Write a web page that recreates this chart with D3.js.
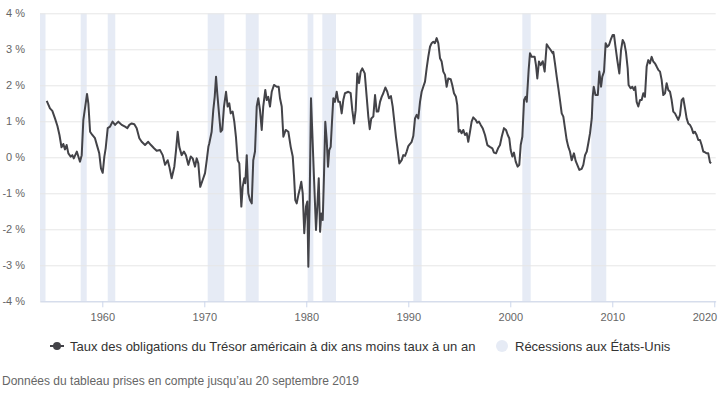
<!DOCTYPE html>
<html>
<head>
<meta charset="utf-8">
<script src="https://cdn.jsdelivr.net/npm/d3@7"></script>
<style>
  body { margin: 0; background: #fff; }
  text { font-family: "Liberation Sans", Arial, sans-serif; }
</style>
</head>
<body>
<svg id="chart" width="724" height="395"></svg>
<script>
// decimal years
const years = [
  1954.55, 1954.87, 1955.1, 1955.36, 1955.6, 1955.8, 1956.0, 1956.18, 1956.34, 1956.5, 1956.67, 1956.9,
  1957.06, 1957.2, 1957.5, 1957.65, 1957.81, 1957.98, 1958.14, 1958.37, 1958.5, 1958.63, 1958.8, 1959.02,
  1959.28, 1959.5, 1959.7, 1959.87, 1960.04, 1960.2, 1960.33, 1960.53, 1960.75, 1961.0, 1961.25, 1961.57,
  1961.9, 1962.23, 1962.45, 1962.65, 1962.88, 1963.14, 1963.37, 1963.63, 1963.86, 1964.19, 1964.5, 1964.77,
  1965.07, 1965.33, 1965.66, 1965.92, 1966.15, 1966.41, 1966.57, 1966.8, 1967.06, 1967.23, 1967.39, 1967.55,
  1967.78, 1968.0, 1968.2, 1968.43, 1968.67, 1968.86, 1969.09, 1969.25, 1969.41, 1969.6, 1969.84, 1970.07,
  1970.24, 1970.4, 1970.49, 1970.72, 1970.88, 1971.02, 1971.15, 1971.27, 1971.44, 1971.6, 1971.76, 1971.93,
  1972.13, 1972.29, 1972.45, 1972.59, 1972.78, 1972.94, 1973.1, 1973.27, 1973.43, 1973.63, 1973.76, 1973.92,
  1974.02, 1974.16, 1974.31, 1974.48, 1974.65, 1974.8, 1974.97, 1975.14, 1975.29, 1975.46, 1975.63, 1975.78,
  1975.98, 1976.12, 1976.27, 1976.44, 1976.61, 1976.83, 1977.1, 1977.29, 1977.42, 1977.59, 1977.75, 1977.98,
  1978.24, 1978.47, 1978.67, 1978.8, 1978.92, 1979.06, 1979.22, 1979.38, 1979.51, 1979.65, 1979.8, 1979.97,
  1980.1, 1980.2, 1980.33, 1980.46, 1980.59, 1980.75, 1980.95, 1981.08, 1981.22, 1981.35, 1981.47, 1981.61,
  1981.74, 1981.86, 1982.0, 1982.13, 1982.25, 1982.39, 1982.52, 1982.65, 1982.81, 1982.98, 1983.14, 1983.3,
  1983.47, 1983.63, 1983.79, 1984.12, 1984.35, 1984.51, 1984.68, 1984.84, 1985.0, 1985.17, 1985.33, 1985.49,
  1985.73, 1985.92, 1986.08, 1986.22, 1986.37, 1986.57, 1986.74, 1986.9, 1987.06, 1987.23, 1987.39, 1987.55,
  1987.75, 1987.94, 1988.11, 1988.3, 1988.47, 1988.63, 1988.79, 1988.96, 1989.12, 1989.35, 1989.51, 1989.68,
  1989.84, 1990.0, 1990.17, 1990.33, 1990.49, 1990.66, 1990.82, 1990.98, 1991.15, 1991.31, 1991.47, 1991.64,
  1991.8, 1991.96, 1992.13, 1992.29, 1992.45, 1992.61, 1992.78, 1992.94, 1993.11, 1993.27, 1993.43, 1993.6,
  1993.76, 1993.92, 1994.16, 1994.31, 1994.48, 1994.67, 1994.8, 1994.94, 1995.07, 1995.23, 1995.39, 1995.56,
  1995.73, 1995.88, 1996.05, 1996.21, 1996.37, 1996.6, 1996.76, 1996.93, 1997.1, 1997.29, 1997.52, 1997.75,
  1998.0, 1998.24, 1998.4, 1998.6, 1998.8, 1998.99, 1999.16, 1999.38, 1999.58, 1999.75, 1999.9, 2000.04,
  2000.2, 2000.36, 2000.53, 2000.72, 2000.88, 2001.02, 2001.18, 2001.35, 2001.51, 2001.61, 2001.8, 2001.93,
  2002.1, 2002.25, 2002.39, 2002.52, 2002.65, 2002.81, 2002.98, 2003.18, 2003.37, 2003.57, 2003.73, 2003.96,
  2004.16, 2004.22, 2004.38, 2004.55, 2004.71, 2004.87, 2005.04, 2005.2, 2005.36, 2005.53, 2005.69, 2005.85,
  2006.02, 2006.24, 2006.41, 2006.57, 2006.77, 2007.0, 2007.16, 2007.33, 2007.5, 2007.65, 2007.82, 2007.99,
  2008.08, 2008.18, 2008.35, 2008.58, 2008.73, 2008.9, 2009.02, 2009.19, 2009.35, 2009.51, 2009.68, 2009.84,
  2010.04, 2010.17, 2010.29, 2010.49, 2010.69, 2010.86, 2011.02, 2011.18, 2011.34, 2011.51, 2011.6, 2011.8,
  2011.96, 2012.13, 2012.25, 2012.39, 2012.55, 2012.72, 2012.88, 2013.04, 2013.2, 2013.37, 2013.53, 2013.69,
  2013.86, 2014.02, 2014.18, 2014.35, 2014.51, 2014.68, 2014.84, 2015.0, 2015.17, 2015.33, 2015.49, 2015.66,
  2015.82, 2015.98, 2016.15, 2016.31, 2016.47, 2016.64, 2016.8, 2016.96, 2017.13, 2017.29, 2017.45, 2017.62,
  2017.78, 2017.94, 2018.1, 2018.27, 2018.43, 2018.6, 2018.76, 2018.92, 2019.09, 2019.25, 2019.41, 2019.58,
  2019.7
];

// 10 ans moins 1 an, en %
const spread = [
  1.57, 1.36, 1.29, 1.08, 0.87, 0.62, 0.28, 0.37, 0.22, 0.34, 0.11, 0.02,
  0.06, -0.03, 0.16, 0.02, -0.12, 0.06, 1.04, 1.5, 1.76, 1.5, 0.71, 0.62,
  0.53, 0.31, 0.11, -0.31, -0.43, 0.02, 0.25, 0.81, 0.85, 0.99, 0.9, 0.99,
  0.9, 0.85, 0.81, 0.9, 0.94, 0.92, 0.81, 0.53, 0.43, 0.34, 0.43, 0.34,
  0.25, 0.18, 0.2, 0.06, -0.21, -0.08, -0.26, -0.58, -0.26, 0.2, 0.71, 0.29,
  0.06, 0.16, 0.06, -0.21, 0.02, -0.03, -0.26, -0.03, -0.17, -0.82, -0.63, -0.44,
  -0.08, 0.29, 0.39, 0.71, 1.31, 1.68, 2.24, 1.78, 1.22, 0.71, 0.76, 1.41,
  1.82, 1.41, 1.5, 1.22, 1.27, 0.99, 0.57, -0.08, -0.17, -1.37, -0.82, -0.58,
  -0.72, 0.06, -1.0, -1.19, -1.28, -0.08, 0.16, 1.41, 1.64, 1.31, 0.76, 1.41,
  1.87, 1.59, 1.68, 1.41, 1.82, 2.01, 1.96, 1.96, 1.64, 1.41, 0.57, 0.76,
  0.71, 0.29, 0.02, -0.54, -1.19, -1.28, -1.05, -0.86, -0.68, -1.0, -2.11, -1.37,
  -1.23, -3.04, -1.19, 1.64, 0.67, -0.54, -2.02, -1.37, -0.58, -2.07, -1.56, -1.74,
  -0.44, 0.99, 0.48, -0.26, 0.2, 0.29, 0.99, 1.64, 1.54, 1.82, 1.54, 1.54,
  1.22, 1.59, 1.78, 1.82, 1.78, 1.31, 0.94, 1.31, 2.33, 2.06, 2.38, 2.47,
  2.33, 1.68, 1.13, 0.78, 1.08, 1.13, 1.73, 1.27, 1.27, 1.54, 1.68, 1.78,
  1.94, 1.82, 1.64, 1.7, 1.41, 0.99, 0.57, 0.2, -0.17, -0.08, 0.06, 0.04,
  0.16, 0.31, 0.37, 0.43, 0.59, 1.08, 1.18, 1.08, 1.54, 1.82, 1.96, 2.1,
  2.47, 2.79, 3.07, 3.17, 3.21, 3.17, 3.31, 3.17, 2.75, 2.66, 2.38, 2.29,
  1.96, 2.19, 2.17, 2.01, 1.78, 1.68, 1.45, 0.71, 0.76, 0.67, 0.76, 0.62,
  0.67, 0.43, 0.71, 0.99, 1.11, 1.04, 0.96, 0.99, 0.9, 0.81, 0.62, 0.34,
  0.29, 0.25, 0.13, 0.11, 0.25, 0.34, 0.57, 0.81, 0.76, 0.62, 0.53, 0.2,
  0.02, 0.13, -0.12, -0.26, -0.21, 0.34, 0.57, 1.59, 1.68, 1.54, 2.43, 2.89,
  2.79, 2.79, 2.79, 2.56, 2.19, 2.66, 2.56, 2.67, 2.38, 3.14, 3.07, 2.98,
  2.89, 2.93, 2.61, 2.24, 1.92, 1.59, 1.22, 1.13, 0.81, 0.48, 0.29, 0.16,
  -0.08, 0.11, -0.1, -0.21, -0.35, -0.32, -0.21, 0.06, 0.16, 0.39, 0.67, 1.08,
  1.68, 1.96, 1.73, 1.73, 2.38, 1.96, 2.24, 2.38, 3.17, 3.07, 3.12, 3.26,
  3.4, 3.4, 3.12, 2.7, 2.33, 2.98, 3.26, 3.17, 2.93, 2.47, 2.01, 1.92,
  1.96, 1.87, 1.96, 1.54, 1.41, 1.59, 1.59, 1.78, 1.68, 2.52, 2.7, 2.61,
  2.79, 2.66, 2.61, 2.52, 2.43, 2.38, 2.15, 1.73, 1.78, 2.06, 1.87, 1.82,
  1.59, 1.27, 1.22, 1.13, 1.04, 1.18, 1.59, 1.64, 1.36, 1.08, 0.94, 0.9,
  0.81, 0.67, 0.71, 0.62, 0.48, 0.48, 0.34, 0.16, 0.14, 0.11, 0.11, -0.14,
  -0.16
];

// récessions (début, fin) en années décimales
const recessionStart = [1953.5, 1957.88, 1960.53, 1970.33, 1974.06, 1980.13, 1981.57, 1990.49, 2001.18, 2007.94];
const recessionEnd   = [1954.43, 1958.47, 1961.27, 1971.96, 1975.33, 1980.69, 1982.91, 1991.31, 2002.0, 2009.41];

const yTicks = [-4, -3, -2, -1, 0, 1, 2, 3, 4];
const xTicks = [1960, 1970, 1980, 1990, 2000, 2010, 2020];

const seriesName = "Taux des obligations du Trésor américain à dix ans moins taux à un an";
const recessionName = "Récessions aux États-Unis";
const footnote = "Données du tableau prises en compte jusqu’au 20 septembre 2019";

// decimal year -> Date
function toDate(y) {
  var y0 = Math.floor(y);
  var a = Date.UTC(y0, 0, 1), b = Date.UTC(y0 + 1, 0, 1);
  return new Date(a + (y - y0) * (b - a));
}

var svg = d3.select("#chart");
// note: "top" is taken by window.top, so plot* names
var plotLeft = 40, plotRight = 715.7, plotTop = 13.3, plotBottom = 301.3;

var x = d3.scaleUtc()
  .domain([toDate(1953.89), toDate(2020.14)])
  .range([plotLeft, plotRight]);

var y = d3.scaleLinear()
  .domain([-4, 4])
  .range([plotBottom, plotTop]);

var bandColor = "#e6ebf5";
var lineColor = "#434348";

svg.append("defs")
  .append("clipPath")
  .attr("id", "plot")
  .append("rect")
  .attr("x", plotLeft)
  .attr("y", plotTop)
  .attr("width", plotRight - plotLeft)
  .attr("height", plotBottom - plotTop);

// recession bands
svg.append("g")
  .attr("clip-path", "url(#plot)")
  .selectAll("rect")
  .data(recessionStart)
  .enter()
  .append("rect")
  .attr("x", (d) => x(toDate(d)))
  .attr("width", (d, i) => x(toDate(recessionEnd[i])) - x(toDate(d)))
  .attr("y", plotTop)
  .attr("height", plotBottom - plotTop)
  .attr("fill", bandColor);

// gridlines + y labels
var yAxis = svg.append("g")
  .attr("transform", "translate(" + plotLeft + ",0)")
  .call(d3.axisLeft(y).tickValues(yTicks).tickSize(-(plotRight - plotLeft)).tickPadding(15)
    .tickFormat((d) => d + " %"));
yAxis.select(".domain").remove();
yAxis.selectAll(".tick line").attr("stroke", "#e6e6e6");
yAxis.selectAll(".tick text")
  .attr("fill", "#666666")
  .style("font-size", "11px");

// x axis
var xAxis = svg.append("g")
  .attr("transform", "translate(0," + plotBottom + ")")
  .call(d3.axisBottom(x).tickValues(xTicks.map((d) => toDate(d))).tickSize(6).tickSizeOuter(0)
    .tickPadding(6).tickFormat(d3.utcFormat("%Y")));
xAxis.select(".domain").attr("stroke", "#ccd6eb");
xAxis.selectAll(".tick line").attr("stroke", "#ccd6eb");
xAxis.selectAll(".tick text")
  .attr("fill", "#666666")
  .style("font-size", "11px");
// last label pushed inside, like the original
xAxis.selectAll(".tick text")
  .filter((d, i) => i === xTicks.length - 1)
  .attr("text-anchor", "end")
  .attr("x", plotRight - x(toDate(2020)) + 1);

// the spread line
var line = d3.line()
  .x((d, i) => x(toDate(years[i])))
  .y((d) => y(d));

svg.append("path")
  .datum(spread)
  .attr("d", line)
  .attr("fill", "none")
  .attr("stroke", lineColor)
  .attr("stroke-width", 2)
  .attr("stroke-linejoin", "round");

// legend
var legend = svg.append("g").attr("transform", "translate(0,346)");
legend.append("line")
  .attr("x1", 50).attr("x2", 64)
  .attr("stroke", lineColor)
  .attr("stroke-width", 2);
legend.append("circle")
  .attr("cx", 57).attr("r", 4)
  .attr("fill", lineColor);
legend.append("text")
  .attr("x", 70).attr("dy", "0.35em")
  .attr("fill", "#333333")
  .style("font-size", "13px")
  .text(seriesName);
legend.append("circle")
  .attr("cx", 502).attr("r", 6)
  .attr("fill", bandColor);
legend.append("text")
  .attr("x", 515).attr("dy", "0.35em")
  .attr("fill", "#333333")
  .style("font-size", "13px")
  .text(recessionName);

svg.append("text")
  .attr("x", 2).attr("y", 385)
  .attr("fill", "#666666")
  .style("font-size", "12px")
  .text(footnote);
</script>
</body>
</html>
